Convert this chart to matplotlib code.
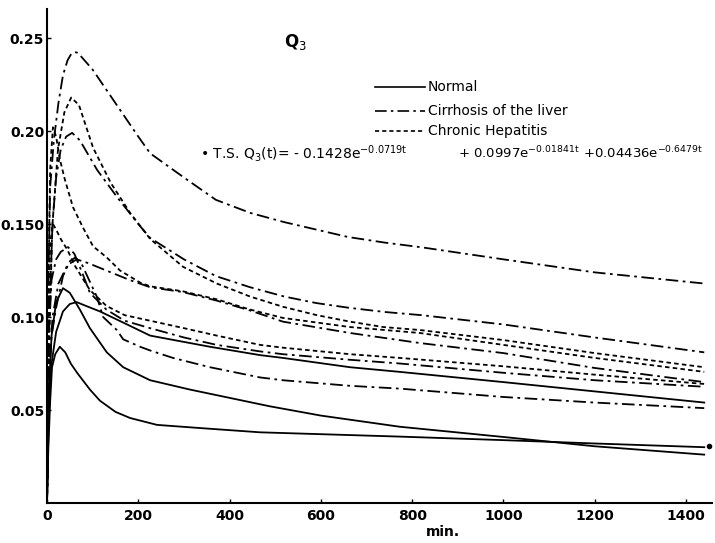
import matplotlib
matplotlib.use("Agg")
import matplotlib.pyplot as plt

# Q3 curves (time in min, amount)
t_a = [0, 3, 7, 15, 25, 35, 45, 52, 60, 68, 75, 100, 150, 200, 226, 300, 370, 445, 520, 590, 660, 740, 820, 1000, 1200, 1440]
q_a = [0, 0.12, 0.17, 0.195, 0.215, 0.23, 0.238, 0.241, 0.2425, 0.2420, 0.240, 0.233, 0.215, 0.197, 0.188, 0.175,
       0.163, 0.156, 0.151, 0.147, 0.143, 0.140, 0.1375, 0.131, 0.124, 0.118]

t_b = [0, 5, 12, 20, 30, 42, 55, 72, 110, 155, 200, 226, 300, 370, 445, 520, 590, 660, 740, 820, 1000, 1200, 1440]
q_b = [0, 0.10, 0.15, 0.175, 0.19, 0.197, 0.199, 0.195, 0.179, 0.164, 0.150, 0.1425, 0.131, 0.122, 0.116, 0.111,
       0.1075, 0.105, 0.1027, 0.101, 0.096, 0.089, 0.081]

t_c = [0, 5, 12, 24, 38, 53, 70, 101, 140, 182, 226, 298, 372, 445, 517, 591, 664, 737, 817, 1000, 1200, 1440]
q_c = [0, 0.09, 0.15, 0.19, 0.21, 0.218, 0.214, 0.191, 0.172, 0.156, 0.142, 0.127, 0.118, 0.111, 0.1055, 0.101,
       0.0975, 0.0946, 0.093, 0.0876, 0.0806, 0.073]

t_d = [0, 3, 7, 13, 20, 28, 39, 57, 79, 101, 131, 160, 204, 226, 298, 372, 445, 517, 664, 817, 1000, 1200, 1440]
q_d = [0, 0.12, 0.18, 0.202, 0.197, 0.185, 0.174, 0.159, 0.148, 0.138, 0.132, 0.125, 0.1185, 0.1165, 0.1138,
       0.1095, 0.104, 0.0995, 0.0946, 0.0914, 0.085, 0.078, 0.0705]

t_e = [0, 5, 12, 25, 45, 65, 90, 130, 180, 226, 298, 372, 445, 517, 664, 817, 1000, 1200, 1440]
q_e = [0, 0.07, 0.10, 0.118, 0.128, 0.131, 0.129, 0.125, 0.120, 0.116, 0.1134, 0.1088, 0.1035, 0.0975, 0.0914,
       0.086, 0.0806, 0.0726, 0.065]

t_f = [0, 3, 7, 13, 20, 30, 45, 60, 80, 94, 130, 170, 226, 300, 372, 467, 517, 664, 773, 1000, 1200, 1440]
q_f = [0, 0.10, 0.14, 0.150, 0.147, 0.142, 0.136, 0.128, 0.12, 0.1145, 0.106, 0.101, 0.098, 0.094, 0.090, 0.085,
       0.0835, 0.080, 0.078, 0.0735, 0.069, 0.064]

t_g = [0, 4, 10, 20, 30, 46, 60, 80, 94, 130, 170, 226, 300, 372, 467, 517, 664, 773, 1000, 1200, 1440]
q_g = [0, 0.09, 0.12, 0.131, 0.135, 0.1376, 0.134, 0.122, 0.113, 0.104, 0.098, 0.094, 0.089, 0.085, 0.0815,
       0.080, 0.077, 0.075, 0.070, 0.066, 0.0625]

t_h = [0, 4, 10, 20, 35, 50, 65, 85, 116, 167, 226, 357, 467, 517, 664, 773, 1000, 1200, 1440]
q_h = [0, 0.05, 0.075, 0.092, 0.103, 0.107, 0.108, 0.106, 0.103, 0.097, 0.090, 0.084, 0.0795, 0.078, 0.073,
       0.0705, 0.065, 0.060, 0.054]

t_i = [0, 5, 10, 20, 35, 50, 62, 75, 109, 123, 153, 167, 204, 226, 276, 357, 467, 517, 664, 773, 1000, 1200, 1440]
q_i = [0, 0.07, 0.09, 0.105, 0.122, 0.13, 0.132, 0.129, 0.111, 0.10, 0.093, 0.088, 0.084, 0.082, 0.078, 0.073,
       0.0675, 0.066, 0.063, 0.0615, 0.057, 0.054, 0.051]

t_j = [0, 4, 10, 20, 35, 50, 72, 94, 131, 167, 226, 313, 488, 600, 773, 1000, 1200, 1440]
q_j = [0, 0.06, 0.09, 0.108, 0.1155, 0.113, 0.104, 0.094, 0.081, 0.073, 0.066, 0.061, 0.052, 0.047, 0.041,
       0.0355, 0.0305, 0.026]

t_k = [0, 3, 7, 11, 18, 28, 40, 52, 66, 94, 116, 150, 182, 241, 335, 467, 600, 773, 1000, 1200, 1440]
q_k = [0, 0.03, 0.055, 0.073, 0.08, 0.084, 0.081, 0.075, 0.070, 0.061, 0.055, 0.049, 0.0457, 0.042, 0.0403,
       0.038, 0.037, 0.0357, 0.0338, 0.032, 0.030]

ts_point_t = [1450]
ts_point_q = [0.0305]

solid = "-"
dashdot = (0, (7, 2.5, 1.5, 2.5))
dotted = (0, (2.5, 1.8))

curves = [
    (t_a, q_a, dashdot), (t_b, q_b, dashdot), (t_c, q_c, dotted), (t_d, q_d, dotted),
    (t_e, q_e, dashdot), (t_f, q_f, dotted), (t_g, q_g, dashdot), (t_h, q_h, solid),
    (t_i, q_i, dashdot), (t_j, q_j, solid), (t_k, q_k, solid),
]

fig = plt.figure(figsize=(7.15, 5.43), dpi=100)
ax = fig.add_axes([47 / 715, 1 - 503 / 543, 665 / 715, 494 / 543])

for t, q, ls in curves:
    ax.plot(t, q, color="black", linestyle=ls, linewidth=1.3)
ax.plot(ts_point_t, ts_point_q, "o", color="black", markersize=3, clip_on=False)

ax.set_xlim(0, 1457)
ax.set_ylim(0, 0.2656)
ax.spines["top"].set_visible(False)
ax.spines["right"].set_visible(False)
ax.spines["left"].set_linewidth(1.5)
ax.spines["bottom"].set_linewidth(1.5)

ax.set_xticks([0, 200, 400, 600, 800, 1000, 1200, 1400])
ax.set_xticklabels(["0", "200", "400", "600", "800", "1000", "1200", "1400"])
ax.set_yticks([0.05, 0.10, 0.15, 0.20, 0.25])
ax.set_yticklabels(["0.05", "0.10", "0.150", "0.20", "0.25"])
ax.tick_params(direction="in", length=3, width=1, labelsize=10, pad=4)
for lab in ax.get_xticklabels() + ax.get_yticklabels():
    lab.set_fontweight("bold")
ax.tick_params(axis="y", pad=2)

ax.set_xlabel("min.", fontsize=10, fontweight="bold", labelpad=1)
ax.xaxis.set_label_coords((443 - 47) / 665, -0.045)

fig.text(295 / 715, 1 - 42 / 543, "Q$_3$", fontsize=12, fontweight="bold", ha="center", va="center")

# legend drawn by hand to copy the layout of the scan
leg_y = [87, 111, 131]
leg_names = ["Normal", "Cirrhosis of the liver", "Chronic Hepatitis"]
leg_styles = [solid, dashdot, dotted]
for y, name, ls in zip(leg_y, leg_names, leg_styles):
    fig.add_artist(plt.Line2D([375 / 715, 425 / 715], [1 - y / 543, 1 - y / 543],
                              color="black", linestyle=ls, linewidth=1.2))
    fig.text(428 / 715, 1 - y / 543, name, fontsize=10, ha="left", va="center")

eq_y = 1 - 153 / 543
fig.text(200 / 715, eq_y, r"• T.S. Q$_3$(t)= - 0.1428e$^{\mathregular{-0.0719t}}$",
         fontsize=10, ha="left", va="center")
fig.text(458 / 715, eq_y, r"+ 0.0997e$^{\mathregular{-0.01841t}}$", fontsize=9.5, ha="left", va="center")
fig.text(583 / 715, eq_y, r"+0.04436e$^{\mathregular{-0.6479t}}$", fontsize=9.5, ha="left", va="center")

fig.savefig("out.png", dpi=100)
